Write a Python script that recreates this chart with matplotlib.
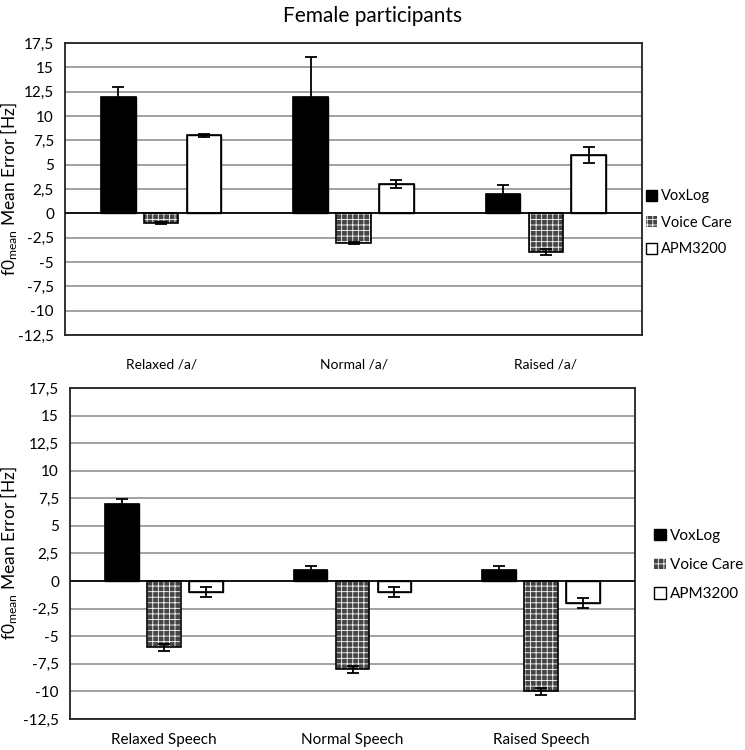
import numpy as np
import matplotlib.pyplot as plt
from matplotlib.patches import Patch

plt.rcParams["font.family"] = ["Lato", "DejaVu Sans"]
plt.rcParams["mathtext.default"] = "regular"
plt.rcParams["hatch.linewidth"] = 0.6

# data
series = ["VoxLog", "Voice Care", "APM3200"]
vowel_labels = ["Relaxed /a/", "Normal /a/", "Raised /a/"]
speech_labels = ["Relaxed Speech", "Normal Speech", "Raised Speech"]

vowel_voxlog = [12, 12, 2]
vowel_voxlog_err = [1.0, 4.1, 0.9]
vowel_voicecare = [-1, -3, -4]
vowel_voicecare_err = [0.1, 0.1, 0.3]
vowel_apm = [8, 3, 6]
vowel_apm_err = [0.2, 0.4, 0.8]

speech_voxlog = [7, 1, 1]
speech_voxlog_err = [0.4, 0.4, 0.4]
speech_voicecare = [-6, -8, -10]
speech_voicecare_err = [0.3, 0.3, 0.3]
speech_apm = [-1, -1, -2]
speech_apm_err = [0.45, 0.45, 0.45]

yticks = np.arange(-12.5, 17.6, 2.5)
vc_face = "#454545"


def fmt(v):
    return ("%g" % v).replace(".", ",")


def draw_panel(ax, labels, vals, errs, tick_size, pad):
    x = np.arange(len(labels))
    width = 0.18
    step = 0.223
    styles = [
        dict(color="black", edgecolor="black"),
        dict(color=vc_face, edgecolor="white", hatch="+++", linewidth=0),
        dict(color="white", edgecolor="black"),
    ]
    for i in range(3):
        xi = x + (i - 1) * step
        ax.bar(xi, vals[i], width, zorder=3, **styles[i])
        # outline
        ax.bar(xi, vals[i], width, fill=False, edgecolor="black", linewidth=1.2, zorder=4)
        ax.errorbar(xi, vals[i], yerr=errs[i], fmt="none", ecolor="black",
                    elinewidth=1.3, capsize=4, capthick=1.3, zorder=5)
    ax.set_ylim(-12.5, 17.5)
    ax.set_xlim(-0.5, len(labels) - 0.5)
    ax.set_yticks(yticks)
    ax.set_yticklabels([fmt(v) for v in yticks], fontsize=11)
    ax.set_xticks(x)
    ax.set_xticklabels(labels, fontsize=tick_size)
    ax.tick_params(length=0, axis="x", pad=pad)
    ax.tick_params(length=0, axis="y", pad=8)
    for v in yticks:
        if v == 0:
            ax.axhline(0, color="black", lw=1.3, zorder=4.5)
        else:
            ax.axhline(v, color="#9a9a9a", lw=1.3, zorder=1)
    for s in ax.spines.values():
        s.set_linewidth(1.3)
        s.set_color("#222222")
    ax.set_ylabel("f0$_{mean}$ Mean Error [Hz]", fontsize=12.5)


fig = plt.figure(figsize=(7.45, 7.5), dpi=100)
ax1 = fig.add_axes([65 / 745, (750 - 335) / 750, 577 / 745, 292 / 750])
ax2 = fig.add_axes([70 / 745, (750 - 719) / 750, 565 / 745, 331 / 750])

draw_panel(ax1, vowel_labels,
           [vowel_voxlog, vowel_voicecare, vowel_apm],
           [vowel_voxlog_err, vowel_voicecare_err, vowel_apm_err], 10, 17)
draw_panel(ax2, speech_labels,
           [speech_voxlog, speech_voicecare, speech_apm],
           [speech_voxlog_err, speech_voicecare_err, speech_apm_err], 11, 10)
ax1.yaxis.set_label_coords(-0.078, 0.5)
ax2.yaxis.set_label_coords(-0.088, 0.5)

handles = [
    Patch(facecolor="black", edgecolor="black"),
    Patch(facecolor=vc_face, edgecolor="white", hatch="+++", linewidth=0),
    Patch(facecolor="white", edgecolor="black"),
]
ax1.legend(handles, series, loc="center left", bbox_to_anchor=(0.985, 0.384),
           frameon=False, fontsize=10.5, handlelength=0.75, handleheight=0.75,
           handletextpad=0.25, labelspacing=0.85)
ax2.legend(handles, series, loc="center left", bbox_to_anchor=(1.01, 0.465),
           frameon=False, fontsize=11, handlelength=0.75, handleheight=0.75,
           handletextpad=0.25, labelspacing=1.0)

fig.text(0.5, 0.978, "Female participants", ha="center", va="center", fontsize=15)

fig.savefig("out.png", dpi=100)
